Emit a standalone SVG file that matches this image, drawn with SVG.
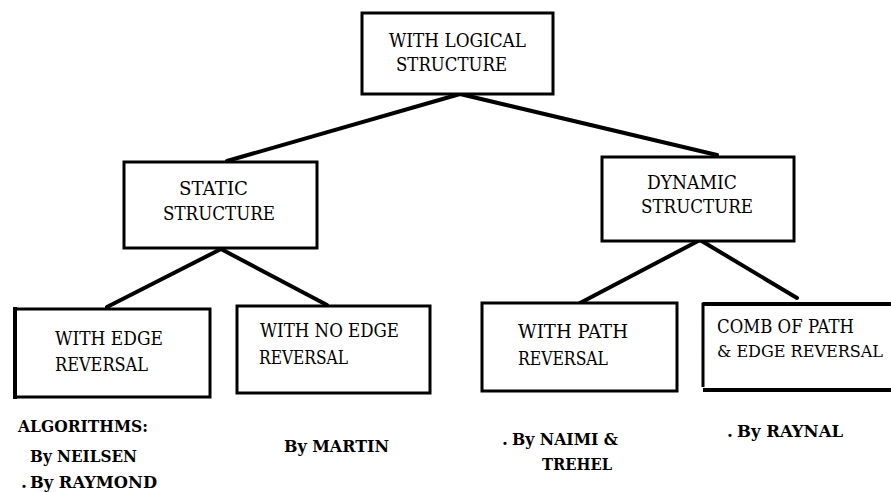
<svg xmlns="http://www.w3.org/2000/svg" width="891" height="492" viewBox="0 0 891 492">
  <style>
    .box { fill: #fff; stroke: #000; stroke-width: 3; }
    .lbl { font-size: 18px; fill: #000; }
    .ref { font-size: 17px; font-weight: bold; fill: #000; }
    .edge { stroke: #000; stroke-width: 4; stroke-linecap: round; fill: none; }
  </style>
  <rect width="891" height="492" fill="#fff"/>

  <!-- connectors -->
  <g id="connectors">
    <line class="edge" x1="460" y1="94" x2="227" y2="161"/>
    <line class="edge" x1="460" y1="94" x2="717" y2="155"/>
    <line class="edge" x1="221" y1="249" x2="107" y2="307"/>
    <line class="edge" x1="221" y1="249" x2="327" y2="305"/>
    <line class="edge" x1="700" y1="240" x2="580" y2="303"/>
    <line class="edge" x1="700" y1="240" x2="797" y2="298"/>
  </g>

  <g font-family="DejaVu Serif, Liberation Serif, serif">
  <g id="logical">
    <rect class="box" x="362" y="13" width="191" height="81"/>
    <text class="lbl" x="389" y="47" textLength="137" lengthAdjust="spacingAndGlyphs">WITH LOGICAL</text>
    <text class="lbl" x="396" y="71" textLength="111" lengthAdjust="spacingAndGlyphs">STRUCTURE</text>
  </g>

  <g id="static">
    <rect class="box" x="124" y="162" width="193" height="86"/>
    <text class="lbl" x="179" y="195" textLength="69" lengthAdjust="spacingAndGlyphs">STATIC</text>
    <text class="lbl" x="163" y="220" textLength="112" lengthAdjust="spacingAndGlyphs">STRUCTURE</text>
  </g>

  <g id="dynamic">
    <rect class="box" x="602" y="157" width="192" height="84"/>
    <text class="lbl" x="647" y="189" textLength="90" lengthAdjust="spacingAndGlyphs">DYNAMIC</text>
    <text class="lbl" x="641" y="213" textLength="112" lengthAdjust="spacingAndGlyphs">STRUCTURE</text>
  </g>

  <g id="edge-reversal">
    <rect class="box" x="15" y="309" width="195" height="88"/>
    <line x1="15" y1="307" x2="15" y2="399" stroke="#000" stroke-width="4"/>
    <text class="lbl" x="55" y="345" textLength="108" lengthAdjust="spacingAndGlyphs">WITH EDGE</text>
    <text class="lbl" x="55" y="371" textLength="93" lengthAdjust="spacingAndGlyphs">REVERSAL</text>
  </g>

  <g id="no-edge-reversal">
    <rect class="box" x="237" y="306" width="193" height="87"/>
    <text class="lbl" x="260" y="337" textLength="139" lengthAdjust="spacingAndGlyphs">WITH NO EDGE</text>
    <text class="lbl" x="259" y="364" textLength="89" lengthAdjust="spacingAndGlyphs">REVERSAL</text>
  </g>

  <g id="path-reversal">
    <rect class="box" x="482" y="303" width="195" height="88"/>
    <text class="lbl" x="518" y="338" textLength="110" lengthAdjust="spacingAndGlyphs">WITH PATH</text>
    <text class="lbl" x="518" y="365" textLength="90" lengthAdjust="spacingAndGlyphs">REVERSAL</text>
  </g>

  <!-- this box runs to the right edge of the sheet, so it has no right side -->
  <g id="combined">
    <path d="M891 304 H703 V387" fill="none" stroke="#000" stroke-width="3"/>
    <line x1="703" y1="304" x2="891" y2="304" stroke="#000" stroke-width="4"/>
    <line x1="703" y1="390" x2="891" y2="390" stroke="#000" stroke-width="4"/>
    <text class="lbl" x="717" y="333" textLength="137" lengthAdjust="spacingAndGlyphs">COMB OF PATH</text>
    <text class="lbl" x="717" y="357" font-size="16" textLength="166" lengthAdjust="spacingAndGlyphs" style="font-size:16px">&amp; EDGE REVERSAL</text>
  </g>

  <g id="authors">
    <text class="ref" x="18" y="432" textLength="130" lengthAdjust="spacingAndGlyphs">ALGORITHMS:</text>
    <text class="ref" x="30" y="462" textLength="107" lengthAdjust="spacingAndGlyphs">By NEILSEN</text>
    <text class="ref" x="21" y="488">.</text>
    <text class="ref" x="30" y="488" textLength="127" lengthAdjust="spacingAndGlyphs">By RAYMOND</text>
    <text class="ref" x="284" y="452" textLength="105" lengthAdjust="spacingAndGlyphs">By MARTIN</text>
    <text class="ref" x="502" y="445">.</text>
    <text class="ref" x="512" y="445" textLength="106" lengthAdjust="spacingAndGlyphs">By NAIMI &amp;</text>
    <text class="ref" x="542" y="470" textLength="70" lengthAdjust="spacingAndGlyphs">TREHEL</text>
    <text class="ref" x="727" y="437">.</text>
    <text class="ref" x="737" y="437" textLength="106" lengthAdjust="spacingAndGlyphs">By RAYNAL</text>
  </g>
  </g>
</svg>
